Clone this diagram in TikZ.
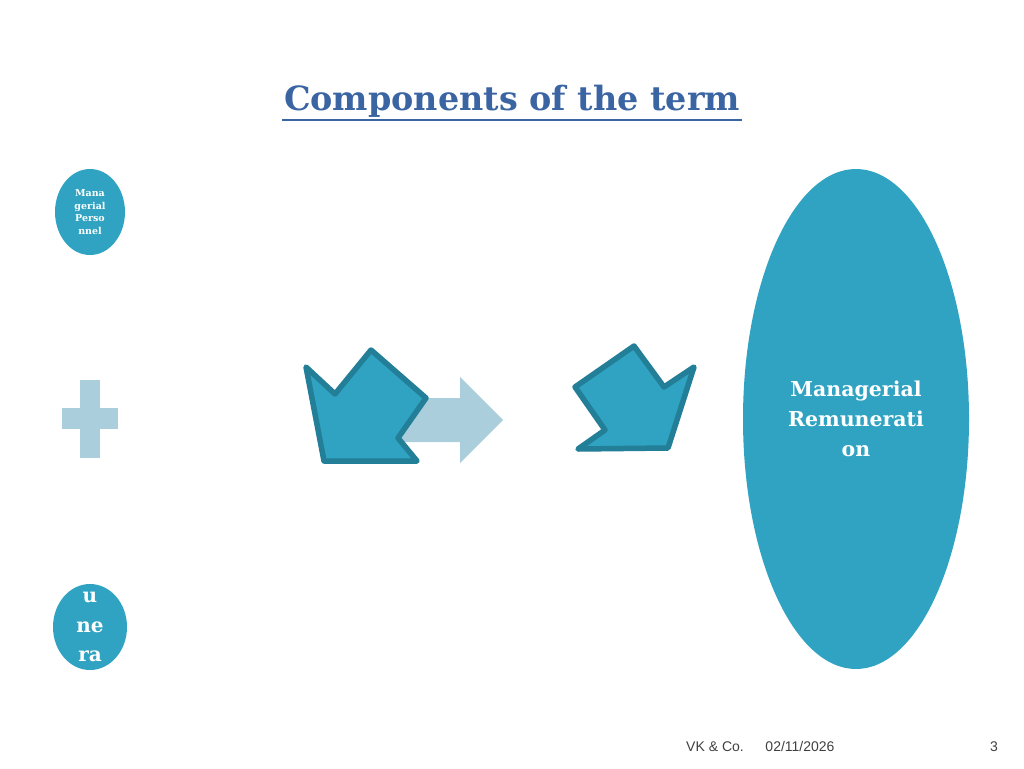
\documentclass[tikz,border=0pt]{standalone}
\usepackage{fontspec}
\setmainfont{DejaVu Serif}
\newfontfamily\footfont{Liberation Sans}
\usepackage{tikz}
\usetikzlibrary{shapes.geometric, positioning, calc}
\definecolor{tealfill}{HTML}{2FA3C1}
\definecolor{tealedge}{HTML}{237E97}
\definecolor{paleblue}{HTML}{AACEDC}
\definecolor{titleblue}{HTML}{3B64A2}
\definecolor{footgray}{HTML}{404040}
\tikzset{
	bubble/.style={ellipse, fill=tealfill, text=white, align=center, inner sep=0pt, font=\bfseries},
	bentarrow/.style={fill=tealfill, draw=tealedge, line width=5.5pt, line join=round},
	footer/.style={font=\footfont\fontsize{14}{16}\selectfont, text=footgray, anchor=base}
}

\begin{document}
\begin{tikzpicture}[x=1pt, y=-1pt]
	\useasboundingbox (0,0) rectangle (1024,768);
	
	% Title
	\node[font=\bfseries\fontsize{33.4}{38}\selectfont, text=titleblue] (title) at (512,101) {Components of the term};
	\draw[titleblue, line width=1.8pt] ($(title.south west)+(2,-1)$) -- ($(title.south east)+(-2,-1)$);
	
	% Left column
	\node[bubble, minimum width=70pt, minimum height=86pt, font=\bfseries\fontsize{9.5}{12.5}\selectfont] (mp) at (90,212) {Mana\\gerial\\Perso\\nnel};
	\node[bubble, inner sep=-14pt, minimum width=74pt, minimum height=86pt, font=\bfseries\fontsize{20}{29.5}\selectfont] (rem) at (90,627) {u\\ne\\ra};
	
	% Plus sign
	\fill[paleblue] (80,380) rectangle (100,458);
	\fill[paleblue] (62,408) rectangle (118,429);
	
	% Middle arrows
	\fill[paleblue] (395,398) -- (460,398) -- (460,377) -- (503,420) -- (460,463) -- (460,442) -- (395,442) -- cycle;
	\draw[bentarrow] (306,367) -- (335,394) -- (371,350) -- (426,398) -- (398,438) -- (417,461) -- (324,461) -- cycle;
	\draw[bentarrow] (575,387) -- (634,346) -- (664,387) -- (694,367) -- (668,448) -- (578,449) -- (605,430) -- cycle;
	
	% Right result
	\node[bubble, minimum width=226pt, minimum height=500pt, font=\bfseries\fontsize{20.5}{30}\selectfont] (mr) at (856,419) {Managerial\\Remunerati\\on};
	
	% Footer
	\node[footer] (firm) at (715,751) {VK \& Co.};
	\node[footer] (date) at (800,751) {02/11/2026};
	\node[footer] (page) at (994,751) {3};
\end{tikzpicture}
\end{document}
